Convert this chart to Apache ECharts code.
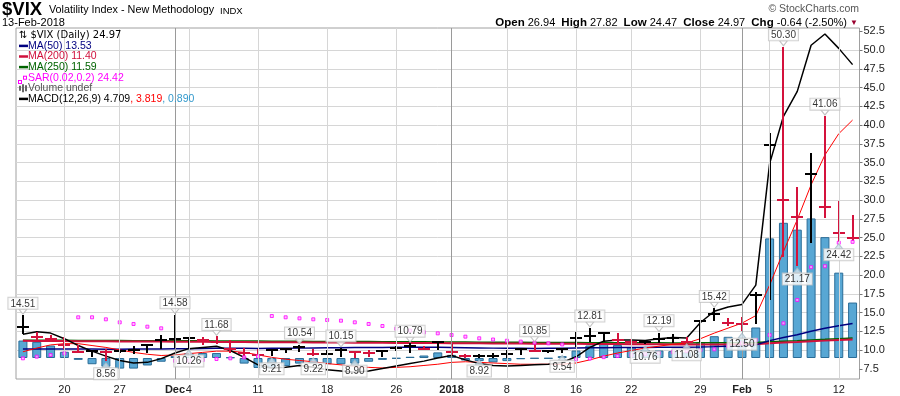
<!DOCTYPE html>
<html><head><meta charset="utf-8">
<script src="https://cdn.jsdelivr.net/npm/echarts@6/dist/echarts.min.js"></script>
<style>html,body{margin:0;padding:0;background:#fff}#c{width:900px;height:396px}</style>
</head><body><div id="c"></div>
<script>
const dates = ['2017-11-15','2017-11-16','2017-11-17','2017-11-20','2017-11-21','2017-11-22','2017-11-24','2017-11-27','2017-11-28','2017-11-29','2017-11-30','2017-12-01','2017-12-04','2017-12-05','2017-12-06','2017-12-07','2017-12-08','2017-12-11','2017-12-12','2017-12-13','2017-12-14','2017-12-15','2017-12-18','2017-12-19','2017-12-20','2017-12-21','2017-12-22','2017-12-26','2017-12-27','2017-12-28','2017-12-29','2018-01-02','2018-01-03','2018-01-04','2018-01-05','2018-01-08','2018-01-09','2018-01-10','2018-01-11','2018-01-12','2018-01-16','2018-01-17','2018-01-18','2018-01-19','2018-01-22','2018-01-23','2018-01-24','2018-01-25','2018-01-26','2018-01-29','2018-01-30','2018-01-31','2018-02-01','2018-02-02','2018-02-05','2018-02-06','2018-02-07','2018-02-08','2018-02-09','2018-02-12','2018-02-13'];

const closes = [13.13,11.76,11.43,10.70,9.73,9.88,9.67,9.87,10.03,10.70,
 11.28,11.43,11.64,11.33,11.02,10.16,9.58,9.34,9.95,10.12,
 10.35,9.42,9.53,10.03,9.72,9.62,9.90,10.25,10.47,10.18,
 11.04,9.77,9.15,9.22,9.26,9.52,10.08,9.82,9.88,10.16,
 11.66,11.91,12.22,11.27,11.03,11.10,11.47,11.58,11.08,13.84,
 14.79,13.54,13.47,17.31,37.32,29.98,27.73,33.46,29.06,25.61,24.97];

const highs = [14.51,12.30,11.87,11.56,10.57,9.92,10.00,9.90,10.35,10.72,
 11.90,14.58,11.66,11.56,11.68,11.20,10.09,10.00,9.98,10.15,
 10.54,10.00,9.91,10.15,9.78,9.91,9.92,10.44,10.79,10.40,
 11.07,10.90,9.40,9.30,9.50,9.90,10.12,10.85,9.92,10.20,
 12.31,12.81,12.25,12.13,11.40,11.15,12.19,12.00,11.60,13.90,
 15.42,14.20,14.22,17.64,38.80,50.30,31.56,36.17,41.06,29.73,27.82];

const lows = [12.20,11.24,11.10,10.20,9.64,9.10,8.56,9.55,9.47,9.60,
 10.13,10.30,10.26,10.67,10.80,9.65,9.03,9.25,9.21,9.55,
 9.77,9.22,9.30,9.10,8.90,9.03,9.10,9.87,9.60,10.00,
 10.00,9.30,8.95,8.92,8.95,9.00,9.40,9.80,9.60,9.54,
 10.44,11.11,11.11,10.89,10.82,10.76,10.90,10.90,11.08,11.11,
 13.87,13.20,12.50,13.47,16.67,22.42,21.17,24.31,27.56,24.42,24.47];

const prevClose = 11.59;
const lastOpen = 26.94;

const ma50 = [10.12,10.12,10.13,10.13,10.12,10.12,10.11,10.11,10.12,10.13,
 10.14,10.16,10.18,10.20,10.22,10.22,10.22,10.21,10.22,10.23,
 10.25,10.27,10.29,10.31,10.33,10.34,10.35,10.36,10.36,10.36,
 10.36,10.34,10.31,10.28,10.25,10.23,10.22,10.21,10.22,10.23,
 10.26,10.29,10.31,10.33,10.34,10.35,10.36,10.37,10.38,10.41,
 10.45,10.50,10.55,10.68,11.25,11.66,12.03,12.50,12.90,13.22,13.53];

const ma200 = [11.22,11.21,11.20,11.19,11.18,11.17,11.16,11.15,11.14,11.13,
 11.12,11.11,11.10,11.09,11.08,11.07,11.06,11.05,11.04,11.03,
 11.02,11.01,11.00,10.99,10.98,10.97,10.96,10.95,10.94,10.93,
 10.92,10.91,10.90,10.89,10.88,10.87,10.86,10.85,10.84,10.83,
 10.82,10.81,10.80,10.79,10.78,10.77,10.76,10.75,10.75,10.75,
 10.75,10.75,10.74,10.77,10.90,10.99,11.06,11.17,11.25,11.33,11.40];

const ma250 = [11.30,11.30,11.29,11.29,11.28,11.27,11.27,11.26,11.25,11.25,
 11.24,11.23,11.22,11.22,11.21,11.20,11.19,11.19,11.18,11.17,
 11.16,11.15,11.14,11.14,11.13,11.12,11.11,11.10,11.10,11.09,
 11.08,11.07,11.06,11.05,11.04,11.03,11.02,11.01,11.00,11.00,
 10.99,10.98,10.98,10.97,10.97,10.96,10.96,10.95,10.95,10.96,
 10.97,10.97,10.97,11.00,11.10,11.18,11.25,11.34,11.42,11.51,11.59];

const sar = [8.89,9.11,9.33,9.55,14.36,14.36,14.09,13.69,13.47,13.11,
 12.89,8.56,8.61,8.67,8.80,8.89,9.02,9.16,14.53,14.36,
 14.22,14.09,14.00,13.91,13.69,13.47,13.20,12.84,12.60,12.36,
 12.22,12.00,11.78,11.56,11.40,11.24,11.12,10.98,10.89,10.74,
 8.76,8.86,9.05,9.20,9.33,9.45,9.58,9.72,9.87,10.00,
 10.09,10.50,10.90,11.33,12.00,13.56,16.67,21.05,21.17,24.31,24.42];

const macd = [0.38,0.42,0.40,0.31,0.20,0.11,0.03,-0.04,-0.08,-0.07,
 -0.01,0.08,0.15,0.17,0.19,0.12,0.01,-0.11,-0.16,-0.15,
 -0.12,-0.15,-0.19,-0.21,-0.23,-0.21,-0.17,-0.13,-0.09,-0.05,
 0.00,0.04,-0.03,-0.09,-0.12,-0.13,-0.12,-0.11,-0.10,-0.07,
 0.02,0.17,0.27,0.29,0.29,0.28,0.31,0.33,0.32,0.57,
 0.75,0.82,0.86,1.17,3.12,3.88,4.28,5.02,5.20,4.97,4.709];

const signal = [0.10,0.16,0.21,0.23,0.23,0.20,0.17,0.13,0.09,0.06,
 0.04,0.05,0.07,0.09,0.11,0.11,0.09,0.05,0.01,-0.02,
 -0.04,-0.06,-0.09,-0.11,-0.14,-0.15,-0.16,-0.15,-0.14,-0.12,
 -0.10,-0.07,-0.06,-0.07,-0.08,-0.09,-0.10,-0.10,-0.10,-0.10,
 -0.08,-0.03,0.03,0.08,0.12,0.16,0.19,0.22,0.24,0.31,
 0.40,0.48,0.56,0.68,1.17,1.71,2.22,2.78,3.26,3.60,3.819];

const hist = [0.28,0.26,0.20,0.10,-0.03,-0.10,-0.14,-0.17,-0.17,-0.12,
 -0.06,0.03,0.08,0.08,0.08,0.01,-0.09,-0.16,-0.17,-0.13,
 -0.09,-0.09,-0.10,-0.10,-0.09,-0.06,-0.03,-0.01,0.02,0.04,
 0.09,0.05,-0.04,-0.05,-0.07,-0.05,-0.02,-0.01,-0.01,0.03,
 0.12,0.20,0.26,0.21,0.17,0.13,0.12,0.11,0.09,0.25,
 0.35,0.34,0.31,0.49,1.92,2.17,2.06,2.24,1.94,1.37,0.890];

const yTicks = [7.5,10,12.5,15,17.5,20,22.5,25,27.5,30,32.5,35,37.5,40,42.5,45,47.5,50,52.5];
const tickDates = ['2017-11-20','2017-11-27','2017-12-01','2017-12-04','2017-12-11','2017-12-18','2017-12-26','2018-01-02','2018-01-08','2018-01-16','2018-01-22','2018-01-29','2018-02-01','2018-02-05','2018-02-12'];
const tickTexts = ['20','27','Dec','4','11','18','26','2018','8','16','22','29','Feb','5','12'];
const monthDates = ['2017-12-01','2018-01-02','2018-02-01'];
const highLabelIdx = [0,11,14,20,23,28,37,41,46,50,55,58];
const lowLabelIdx = [6,12,18,21,24,33,39,45,48,52,56,59];

const F = '"Liberation Sans", Arial, Helvetica, sans-serif';
const n = closes.length;
const last = n - 1;
const chg = closes[last] - closes[last - 1];
const pct = chg / closes[last - 1] * 100;

const candleData = dates.map((d, i) => [i, highs[i], lows[i], closes[i], closes[i] > (i ? closes[i - 1] : prevClose) ? 1 : 0]);

const LH = 10.6;
const legendText = [
  `{arr|\u21C5}{vix|$VIX (Daily) ${closes[last].toFixed(2)}}`,
  `{i50| }{t50|MA(50) ${ma50[last].toFixed(2)}}`,
  `{i200| }{t200|MA(200) ${ma200[last].toFixed(2)}}`,
  `{i250| }{t250|MA(250) ${ma250[last].toFixed(2)}}`,
  `{sq| }{gap| }{sq2| }{gap2| }{tsar|SAR(0.02,0.2) ${sar[last].toFixed(2)}}`,
  `{v1| }{vg| }{v2| }{vg| }{v3| }{vg2| }{tvol|Volume undef}`,
  `{im| }{tm|MACD(12,26,9) ${macd[last].toFixed(3)}}{ts|, ${signal[last].toFixed(3)}}{th|, ${hist[last].toFixed(3)}}`
].join('\n');
const txt = (c) => ({color: c, fontSize: 10.5, fontWeight: 'normal', fontFamily: F, lineHeight: LH});
const icon = (c) => ({width: 9, height: 2.5, backgroundColor: c, verticalAlign: 'middle', lineHeight: LH});

const headerText = `{b|Open} ${lastOpen.toFixed(2)}  {b|High} ${highs[last].toFixed(2)}  {b|Low} ${lows[last].toFixed(2)}  {b|Close} ${closes[last].toFixed(2)}  {b|Chg} ${chg.toFixed(2)} (${pct.toFixed(2)}%) {tri|\u25BC}`;

const gridLineData = tickDates.filter(d => monthDates.indexOf(d) < 0).map(d => ({xAxis: d, lineStyle: {color: '#d6d6d6', width: 1, type: 'solid'}}))
  .concat(monthDates.map(d => ({xAxis: d, lineStyle: {color: '#9a9a9a', width: 1, type: 'solid'}})));

const chart = echarts.init(document.getElementById('c'));
chart.setOption({
  animation: false,
  backgroundColor: '#fff',
  title: [
    {text: '$VIX', left: 2, top: 0, padding: 0, textStyle: {fontSize: 18.5, fontWeight: 'bold', fontFamily: F, color: '#000', lineHeight: 19}},
    {text: 'Volatility Index - New Methodology', left: 49, top: 4, padding: 0, textStyle: {fontSize: 10.8, fontWeight: 'normal', fontFamily: F, color: '#000', lineHeight: 13}},
    {text: 'INDX', left: 220, top: 5, padding: 0, textStyle: {fontSize: 9.5, fontWeight: 'normal', fontFamily: F, color: '#000', lineHeight: 12}},
    {text: '13-Feb-2018', left: 2, top: 16.5, padding: 0, textStyle: {fontSize: 11, fontWeight: 'normal', fontFamily: F, color: '#000', lineHeight: 12}},
    {text: '\u00A9 StockCharts.com', right: 41, top: 3.3, padding: 0, textStyle: {fontSize: 10.5, fontWeight: 'normal', fontFamily: F, color: '#555', lineHeight: 12}},
    {text: headerText, right: 42, top: 16.7, padding: 0, textStyle: {fontSize: 11, fontWeight: 'normal', fontFamily: F, color: '#000', lineHeight: 12,
      rich: {b: {fontWeight: 'bold', fontSize: 11.5, fontFamily: F, color: '#000', lineHeight: 12}, tri: {color: '#99002e', fontSize: 8, lineHeight: 12}}}},
    {text: legendText, left: 19, top: 30, padding: 0, textStyle: {fontSize: 10.5, fontWeight: 'normal', fontFamily: F, color: '#000', lineHeight: LH,
      rich: {
        arr: {fontFamily: '"DejaVu Sans"', fontSize: 10, fontWeight: 'normal', color: '#000', lineHeight: LH, padding: [0, 3, 0, 0]},
        vix: {fontFamily: '"DejaVu Sans"', fontSize: 10, fontWeight: 'normal', color: '#000', lineHeight: LH},
        i50: icon('#000080'), t50: txt('#000080'),
        i200: icon('#d0103c'), t200: txt('#d0103c'),
        i250: icon('#006400'), t250: txt('#006400'),
        sq: {width: 2, height: 2, borderColor: '#ff00ff', borderWidth: 1, backgroundColor: '#fff', verticalAlign: 'bottom', lineHeight: LH},
        gap: {width: 3, lineHeight: LH},
        sq2: {width: 2, height: 2, borderColor: '#ff00ff', borderWidth: 1, backgroundColor: '#fff', verticalAlign: 'middle', lineHeight: LH},
        gap2: {width: 2, lineHeight: LH},
        tsar: txt('#ff00ff'),
        v1: {width: 2, height: 5, backgroundColor: '#666', verticalAlign: 'middle', lineHeight: LH},
        v2: {width: 2, height: 8, backgroundColor: '#666', verticalAlign: 'middle', lineHeight: LH},
        v3: {width: 2, height: 6, backgroundColor: '#666', verticalAlign: 'middle', lineHeight: LH},
        vg: {width: 1, lineHeight: LH},
        vg2: {width: 1, lineHeight: LH},
        tvol: txt('#555'),
        im: icon('#000'), tm: txt('#000'), ts: txt('#ff0000'), th: txt('#3399cc')
      }}}
  ],
  grid: [
    {left: 16, right: 40.5, top: 12.5, bottom: 8.5, show: false},
    {left: 16, right: 40.5, top: 28, bottom: 17, show: true, borderColor: '#a0a0a0', borderWidth: 1, backgroundColor: 'transparent'}
  ],
  xAxis: [
    {gridIndex: 0, type: 'category', data: dates, boundaryGap: true, show: false},
    {gridIndex: 1, type: 'category', data: dates, boundaryGap: true,
      axisLine: {show: false}, axisTick: {show: false}, splitLine: {show: false},
      axisLabel: {interval: 0, margin: 5, fontSize: 11, fontFamily: F, color: '#222',
        formatter: v => {
          const k = tickDates.indexOf(v);
          if (k < 0) return '';
          return monthDates.indexOf(v) >= 0 ? '{b|' + tickTexts[k] + '}' : tickTexts[k];
        },
        rich: {b: {fontWeight: 'bold', fontSize: 11, fontFamily: F, color: '#222'}}}}
  ],
  yAxis: [
    {gridIndex: 0, type: 'value', position: 'right', min: 5, max: 55, interval: 2.5,
      axisLine: {show: false},
      axisTick: {show: true, length: 3, lineStyle: {color: '#777'}, customValues: yTicks},
      axisLabel: {margin: 4, fontSize: 11, fontFamily: F, color: '#222', formatter: v => (v <= 5 || v >= 55) ? '' : v.toFixed(1)},
      splitLine: {show: true, showMinLine: false, showMaxLine: false, lineStyle: {color: '#d6d6d6', width: 1}}},
    {gridIndex: 1, type: 'value', min: 0, max: 1, show: false},
    {gridIndex: 0, type: 'value', min: -0.4735, max: 5.5457, show: false}
  ],
  series: [
    {type: 'line', xAxisIndex: 1, yAxisIndex: 1, data: dates.map(() => null), silent: true, symbol: 'none', z: 0,
      markLine: {silent: true, symbol: ['none', 'none'], label: {show: false}, animation: false, data: gridLineData}},
    {name: 'hist', type: 'bar', xAxisIndex: 0, yAxisIndex: 2, data: hist, barWidth: 9, z: 1, silent: true,
      itemStyle: {color: '#58a7d4', borderColor: '#2a6c97', borderWidth: 1}},
    {name: 'MA250', type: 'line', xAxisIndex: 0, yAxisIndex: 0, data: ma250, symbol: 'none', z: 2, silent: true,
      lineStyle: {color: '#006400', width: 1.5}},
    {name: 'MA200', type: 'line', xAxisIndex: 0, yAxisIndex: 0, data: ma200, symbol: 'none', z: 2, silent: true,
      lineStyle: {color: '#d0103c', width: 2}},
    {name: 'MA50', type: 'line', xAxisIndex: 0, yAxisIndex: 0, data: ma50, symbol: 'none', z: 2, silent: true,
      lineStyle: {color: '#000080', width: 1.5}},
    {name: 'signal', type: 'line', xAxisIndex: 0, yAxisIndex: 2, data: signal, symbol: 'none', z: 2, silent: true,
      lineStyle: {color: '#ff0000', width: 1}},
    {name: 'macd', type: 'line', xAxisIndex: 0, yAxisIndex: 2, data: macd, symbol: 'none', z: 2, silent: true,
      lineStyle: {color: '#000000', width: 1.5}},
    {name: 'price', type: 'custom', xAxisIndex: 0, yAxisIndex: 0, z: 3, silent: true,
      encode: {x: 0, y: [1, 2, 3]},
      renderItem: (params, api) => {
        const i = api.value(0);
        const h = api.coord([i, api.value(1)]);
        const l = api.coord([i, api.value(2)]);
        const c = api.coord([i, api.value(3)]);
        const x = Math.round(h[0]);
        const yc = Math.round(c[1]);
        const col = api.value(4) ? '#000000' : '#d4123c';
        return {type: 'group', children: [
          {type: 'line', shape: {x1: x, y1: Math.round(h[1]) - 1, x2: x, y2: Math.round(l[1])}, style: {stroke: col, lineWidth: 2}},
          {type: 'line', shape: {x1: x - 6, y1: yc, x2: x + 6, y2: yc}, style: {stroke: col, lineWidth: 2}}
        ]};
      },
      data: candleData},
    {name: 'SAR', type: 'scatter', xAxisIndex: 0, yAxisIndex: 0, data: sar, symbol: 'rect', symbolSize: 3, z: 4, silent: true,
      itemStyle: {color: '#ffb0ff', borderColor: '#ff00ff', borderWidth: 1}},
    {name: 'hiLabels', type: 'scatter', xAxisIndex: 0, yAxisIndex: 0, z: 6, silent: true,
      symbol: 'triangle', symbolSize: [8, 5], symbolRotate: 180, symbolOffset: [0, -4.5],
      itemStyle: {color: '#ffffff', borderColor: '#b4b4b4', borderWidth: 1},
      label: {show: true, position: 'top', distance: 0, formatter: p => p.value[1].toFixed(2), fontSize: 10, fontFamily: F, color: '#000',
        backgroundColor: '#fff', borderColor: '#c4c4c4', borderWidth: 1, padding: [1, 2, 0, 2], lineHeight: 10},
      data: highLabelIdx.map(i => [i, highs[i]])},
    {name: 'loLabels', type: 'scatter', xAxisIndex: 0, yAxisIndex: 0, z: 6, silent: true,
      symbol: 'triangle', symbolSize: [8, 5], symbolOffset: [0, 4.5],
      itemStyle: {color: '#cfe0ea', borderColor: '#a8bcc8', borderWidth: 1},
      label: {show: true, position: 'bottom', distance: 0, formatter: p => p.value[1].toFixed(2), fontSize: 10, fontFamily: F, color: '#000',
        backgroundColor: '#fff', borderColor: '#c4c4c4', borderWidth: 1, padding: [1, 2, 0, 2], lineHeight: 10},
      data: lowLabelIdx.map(i => [i, lows[i]])}
  ]
});
</script>
</body></html>
